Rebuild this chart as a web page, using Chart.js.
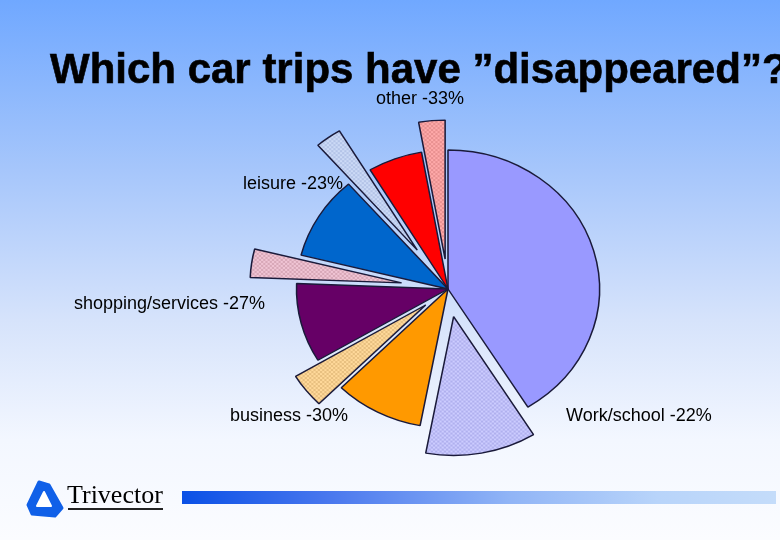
<!DOCTYPE html>
<html>
<head>
<meta charset="utf-8">
<script src="https://cdn.jsdelivr.net/npm/chart.js@4.4.1/dist/chart.umd.min.js"></script>
<style>
  html, body { margin:0; padding:0; }
  body { width:780px; height:540px; overflow:hidden; position:relative;
    background: linear-gradient(to bottom, #70a8ff 0px, #a6c6fb 170px, #d6e3fb 320px, #f3f7ff 440px, #fbfcff 540px);
    font-family: "Liberation Sans", Arial, sans-serif; }
  #wrap { position:absolute; left:0; top:0; width:780px; height:540px; }
  .title { position:absolute; left:50px; top:48px; font-size:42px; line-height:42px; font-weight:bold; color:#000; white-space:nowrap; -webkit-text-stroke:0.6px #000; }
  .lbl { position:absolute; font-size:18px; line-height:18px; color:#000; white-space:nowrap; }
  .bar { position:absolute; left:182px; top:491px; width:594px; height:13px;
    background: linear-gradient(to right, #0a50e6 0%, #4a78ee 25%, #90b4f6 55%, #b8d4fa 80%, #c4dcfa 100%); }
  .logoText { position:absolute; left:67px; top:482px; font-family:"Liberation Serif", "Times New Roman", serif; font-size:26px; line-height:26px; color:#000; }
  .logoLine { position:absolute; left:68px; top:508px; width:95px; height:2px; background:#222; }
  svg.logo { position:absolute; left:24px; top:476px; }
</style>
</head>
<body>
<div id="wrap"><canvas id="c" width="780" height="540"></canvas></div>
<div class="title">Which car trips have ”disappeared”?</div>
<div id="labels"></div>
<svg class="logo" width="44" height="44" viewBox="0 0 44 44">
  <polygon points="15,6 25,9 38,32 31,40 8,38 4,29" fill="#1060e8" stroke="#1060e8" stroke-width="3" stroke-linejoin="round"/>
  <polygon points="20,16 27,30 13,30" fill="#ffffff" stroke="#ffffff" stroke-width="2" stroke-linejoin="round"/>
</svg>
<div class="logoText">Trivector</div>
<div class="logoLine"></div>
<div class="bar"></div>
<script>
// ---- data (share of all car trips, %) ----
const categories = ['Work/school', 'business', 'shopping/services', 'leisure', 'other'];
const remaining  = [41.2, 9.5, 9.2, 9.7, 5.8];
const disappeared = [11.8, 4.0, 3.3, 2.8, 2.8];
const reductionLabels = ['-22%', '-30%', '-27%', '-23%', '-33%'];

// ---- styling ----
const remainColors = ['#9999ff', '#ff9900', '#660066', '#0066cc', '#ff0000'];
const goneColors   = ['#ccccff', '#ffd99a', '#f0c4d4', '#ccdaf6', '#ffaaaa'];
const goneHatch    = ['#b0b0ee', '#e8c080', '#d8a8b8', '#b4c4e8', '#e89090'];
const explode      = [28, 26, 43, 48, 30];
const labelPos     = [[566, 406], [230, 406], [74, 294], [243, 174], [376, 89]];
const stretchX = 1.09;

// labels
const lw = document.getElementById('labels');
categories.forEach((c, i) => {
  const d = document.createElement('div');
  d.className = 'lbl';
  d.style.left = labelPos[i][0] + 'px';
  d.style.top = labelPos[i][1] + 'px';
  d.textContent = c + ' ' + reductionLabels[i];
  lw.appendChild(d);
});

function hatch(base, line) {
  const p = document.createElement('canvas');
  p.width = 4; p.height = 4;
  const g = p.getContext('2d');
  g.fillStyle = base; g.fillRect(0, 0, 4, 4);
  g.fillStyle = line;
  for (let k = 0; k < 4; k++) { g.fillRect(k, k, 1, 1); g.fillRect(3 - k, k, 1, 1); }
  return g.createPattern(p, 'repeat');
}

const values = [], colors = [], names = [], explodeBy = [];
categories.forEach((c, i) => {
  values.push(remaining[i]);   colors.push(remainColors[i]); names.push(c);              explodeBy.push(0);
  values.push(disappeared[i]); colors.push(hatch(goneColors[i], goneHatch[i])); names.push(c + ' (disappeared)'); explodeBy.push(explode[i]);
});

const explodePlugin = {
  id: 'explode',
  beforeDatasetsDraw(chart) {
    const ctx = chart.ctx;
    const meta = chart.getDatasetMeta(0);
    meta.data.forEach((arc, i) => {
      const mid = (arc.startAngle + arc.endAngle) / 2;
      const d = explodeBy[i];
      ctx.save();
      ctx.translate(arc.x, arc.y);
      ctx.scale(stretchX, 1);
      ctx.translate(-arc.x, -arc.y);
      ctx.translate(Math.cos(mid) * d, Math.sin(mid) * d);
      arc.draw(ctx);
      ctx.restore();
    });
    return false;
  }
};

new Chart(document.getElementById('c'), {
  type: 'pie',
  data: {
    labels: names,
    datasets: [{
      data: values,
      backgroundColor: colors,
      borderColor: '#1a1a3a',
      borderWidth: 1.4,
      offset: 0
    }]
  },
  options: {
    responsive: false,
    animation: false,
    radius: 139,
    layout: { padding: { left: 116, right: 0, top: 38, bottom: 0 } },
    plugins: { legend: { display: false }, tooltip: { enabled: false }, title: { display: false } }
  },
  plugins: [explodePlugin]
});
</script>
</body>
</html>
